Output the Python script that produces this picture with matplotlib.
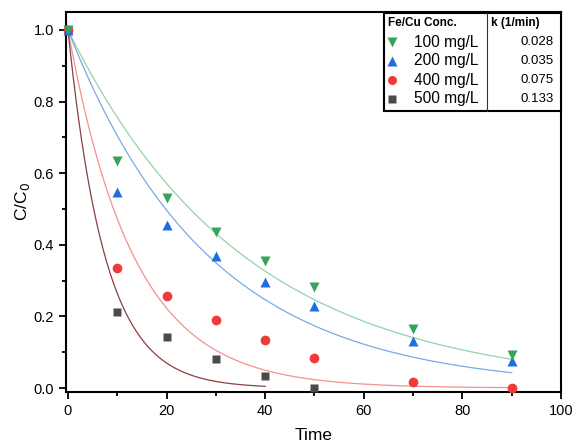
import numpy as np
import matplotlib
matplotlib.use("Agg")
import matplotlib.pyplot as plt
from matplotlib.lines import Line2D
from matplotlib.patches import Rectangle

plt.rcParams['font.family'] = ['Liberation Sans', 'DejaVu Sans']

# ---- data ----
time = [0, 10, 20, 30, 40, 50, 70, 90]
c100 = [1.0, 0.635, 0.530, 0.435, 0.355, 0.282, 0.165, 0.092]
c200 = [1.0, 0.548, 0.455, 0.368, 0.295, 0.230, 0.132, 0.075]
c400 = [1.0, 0.335, 0.258, 0.190, 0.133, 0.085, 0.018, 0.000]
time500 = [0, 10, 20, 30, 40, 50]
c500 = [1.0, 0.212, 0.142, 0.082, 0.033, 0.000]
labels = ["100 mg/L", "200 mg/L", "400 mg/L", "500 mg/L"]
k_vals = [0.028, 0.035, 0.075, 0.133]
k_text = ["0.028", "0.035", "0.075", "0.133"]
fit_end = [90, 90, 90, 40]

mcolors = ["#36a45a", "#1f6ee0", "#f03a3a", "#4a4a4a"]
lcolors = ["#8fd6a6", "#7aa8ea", "#f59090", "#8e3e3e"]
markers = ["v", "^", "o", "s"]
msizes = [7.5, 7.5, 7, 6]

fig = plt.figure(figsize=(5.73, 4.43), dpi=100)
ax = fig.add_axes([66/573, 1-392/443, (561-66)/573, (392-12)/443])

xs_all = [time, time, time, time500]
ys_all = [c100, c200, c400, c500]

# fitted curves
for i in range(4):
    t = np.linspace(0, fit_end[i], 300)
    ax.plot(t, np.exp(-k_vals[i]*t), color=lcolors[i], lw=0.9, zorder=2)

# data points (draw green last so it sits on top)
for i in [3, 2, 1, 0]:
    ax.plot(xs_all[i], ys_all[i], linestyle='none', marker=markers[i],
            ms=msizes[i], color=mcolors[i], mec='none', zorder=3, clip_on=False)

ax.set_xlim(-0.4, 100)
ax.set_ylim(-0.011, 1.05)
ax.set_xticks([0, 20, 40, 60, 80, 100])
ax.set_xticks([10, 30, 50, 70, 90], minor=True)
ax.set_yticks([0.0, 0.2, 0.4, 0.6, 0.8, 1.0])
ax.set_yticks([0.1, 0.3, 0.5, 0.7, 0.9], minor=True)
ax.yaxis.set_major_formatter(matplotlib.ticker.FormatStrFormatter('%.1f'))
ax.tick_params(which='major', direction='out', length=5, width=1.3, labelsize=10.5)
ax.tick_params(which='minor', direction='out', length=3, width=1.3)
for s in ax.spines.values():
    s.set_linewidth(1.5)
ax.set_xlabel("Time", fontsize=12.5, labelpad=7)
ax.set_ylabel("C/C$_0$", fontsize=12.5, labelpad=1)

# ---- legend table (figure pixel layout) ----
W, H = 573, 443
def fx(px): return px / W
def fy(py): return 1 - py / H

box = Rectangle((fx(384), fy(111)), fx(561) - fx(384), fy(13) - fy(111),
                transform=fig.transFigure, fill=True, facecolor='white',
                edgecolor='black', lw=1.5, zorder=5)
fig.add_artist(box)
fig.add_artist(Line2D([fx(487), fx(487)], [fy(111), fy(13)],
                      transform=fig.transFigure, color='#333333', lw=0.8, zorder=6))
fig.text(fx(388), fy(23), "Fe/Cu Conc.", fontsize=8.5, fontweight='bold',
         va='center', ha='left', zorder=7)
fig.text(fx(491), fy(23), "k (1/min)", fontsize=8.5, fontweight='bold',
         va='center', ha='left', zorder=7)
row_y = [42, 61, 80, 99]
for i in range(4):
    fig.add_artist(Line2D([fx(392)], [fy(row_y[i])], transform=fig.transFigure,
                          marker=markers[i], ms=msizes[i]-0.5, color=mcolors[i],
                          mec='none', linestyle='none', zorder=7))
    fig.text(fx(414), fy(row_y[i]), labels[i], fontsize=11.2, va='center',
             ha='left', zorder=7)
    fig.text(fx(554), fy(row_y[i]), k_text[i], fontsize=9.5, va='center',
             ha='right', zorder=7)

fig.savefig("out.png", dpi=100)
